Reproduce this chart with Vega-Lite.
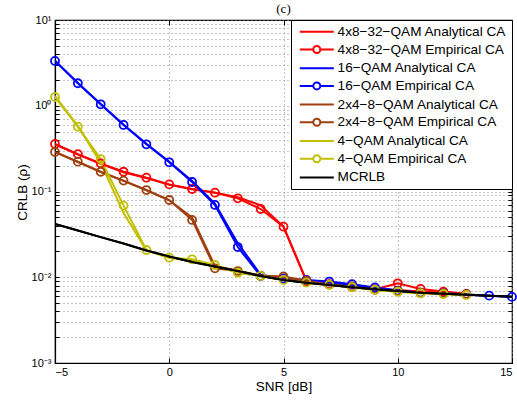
{
  "$schema": "https://vega.github.io/schema/vega-lite/v6.json",
  "width": 457,
  "height": 343,
  "autosize": {"type": "none"},
  "padding": {"left": 55, "top": 20, "right": 5, "bottom": 38},
  "background": "white",
  "title": {"text": "(c)", "font": "Liberation Serif", "fontSize": 13, "fontWeight": "normal", "color": "black", "offset": -2, "anchor": "middle"},
  "config": {
    "view": {"stroke": "black", "strokeWidth": 1.2},
    "font": "Liberation Sans",
    "axis": {"labelFont": "Liberation Sans", "labelFontSize": 11, "labelColor": "black", "titleFont": "Liberation Sans", "titleFontSize": 13.5, "titleFontWeight": "normal", "titleColor": "black", "domainColor": "black", "tickColor": "black", "gridColor": "#888888", "gridDash": [1, 3], "gridWidth": 1, "gridOpacity": 1}
  },
  "data": {"values": [
    {"s": "4x8−32−QAM Analytical CA", "x": -5, "y": 0.355},
    {"s": "4x8−32−QAM Analytical CA", "x": -4, "y": 0.27},
    {"s": "4x8−32−QAM Analytical CA", "x": -3, "y": 0.21},
    {"s": "4x8−32−QAM Analytical CA", "x": -2, "y": 0.168},
    {"s": "4x8−32−QAM Analytical CA", "x": -1, "y": 0.144},
    {"s": "4x8−32−QAM Analytical CA", "x": 0, "y": 0.12},
    {"s": "4x8−32−QAM Analytical CA", "x": 1, "y": 0.106},
    {"s": "4x8−32−QAM Analytical CA", "x": 2, "y": 0.097},
    {"s": "4x8−32−QAM Analytical CA", "x": 3, "y": 0.086},
    {"s": "4x8−32−QAM Analytical CA", "x": 4, "y": 0.069},
    {"s": "4x8−32−QAM Analytical CA", "x": 5, "y": 0.039},
    {"s": "4x8−32−QAM Analytical CA", "x": 6, "y": 0.0092},
    {"s": "4x8−32−QAM Analytical CA", "x": 7, "y": 0.0083},
    {"s": "4x8−32−QAM Analytical CA", "x": 8, "y": 0.0078},
    {"s": "4x8−32−QAM Analytical CA", "x": 9, "y": 0.0072},
    {"s": "4x8−32−QAM Analytical CA", "x": 10, "y": 0.0071},
    {"s": "4x8−32−QAM Analytical CA", "x": 11, "y": 0.0068},
    {"s": "4x8−32−QAM Analytical CA", "x": 12, "y": 0.0066},
    {"s": "4x8−32−QAM Analytical CA", "x": 13, "y": 0.0063},
    {"s": "4x8−32−QAM Empirical CA", "x": -5, "y": 0.358},
    {"s": "4x8−32−QAM Empirical CA", "x": -4, "y": 0.273},
    {"s": "4x8−32−QAM Empirical CA", "x": -3, "y": 0.213},
    {"s": "4x8−32−QAM Empirical CA", "x": -2, "y": 0.17},
    {"s": "4x8−32−QAM Empirical CA", "x": -1, "y": 0.145},
    {"s": "4x8−32−QAM Empirical CA", "x": 0, "y": 0.121},
    {"s": "4x8−32−QAM Empirical CA", "x": 1, "y": 0.107},
    {"s": "4x8−32−QAM Empirical CA", "x": 2, "y": 0.0968},
    {"s": "4x8−32−QAM Empirical CA", "x": 3, "y": 0.0833},
    {"s": "4x8−32−QAM Empirical CA", "x": 4, "y": 0.0625},
    {"s": "4x8−32−QAM Empirical CA", "x": 5, "y": 0.0389},
    {"s": "4x8−32−QAM Empirical CA", "x": 6, "y": 0.009},
    {"s": "4x8−32−QAM Empirical CA", "x": 7, "y": 0.0083},
    {"s": "4x8−32−QAM Empirical CA", "x": 8, "y": 0.0078},
    {"s": "4x8−32−QAM Empirical CA", "x": 9, "y": 0.0072},
    {"s": "4x8−32−QAM Empirical CA", "x": 10, "y": 0.0085},
    {"s": "4x8−32−QAM Empirical CA", "x": 11, "y": 0.0073},
    {"s": "4x8−32−QAM Empirical CA", "x": 12, "y": 0.0068},
    {"s": "4x8−32−QAM Empirical CA", "x": 13, "y": 0.0064},
    {"s": "16−QAM Analytical CA", "x": -5, "y": 3.35},
    {"s": "16−QAM Analytical CA", "x": -4, "y": 1.84},
    {"s": "16−QAM Analytical CA", "x": -3, "y": 1.05},
    {"s": "16−QAM Analytical CA", "x": -2, "y": 0.6},
    {"s": "16−QAM Analytical CA", "x": -1, "y": 0.36},
    {"s": "16−QAM Analytical CA", "x": 0, "y": 0.222},
    {"s": "16−QAM Analytical CA", "x": 1, "y": 0.133},
    {"s": "16−QAM Analytical CA", "x": 2, "y": 0.072},
    {"s": "16−QAM Analytical CA", "x": 3, "y": 0.025},
    {"s": "16−QAM Analytical CA", "x": 4, "y": 0.0107},
    {"s": "16−QAM Analytical CA", "x": 5, "y": 0.0096},
    {"s": "16−QAM Analytical CA", "x": 6, "y": 0.0092},
    {"s": "16−QAM Analytical CA", "x": 7, "y": 0.0087},
    {"s": "16−QAM Analytical CA", "x": 8, "y": 0.0082},
    {"s": "16−QAM Analytical CA", "x": 9, "y": 0.0075},
    {"s": "16−QAM Analytical CA", "x": 10, "y": 0.007},
    {"s": "16−QAM Analytical CA", "x": 11, "y": 0.0066},
    {"s": "16−QAM Analytical CA", "x": 12, "y": 0.0065},
    {"s": "16−QAM Analytical CA", "x": 13, "y": 0.0063},
    {"s": "16−QAM Analytical CA", "x": 14, "y": 0.0061},
    {"s": "16−QAM Analytical CA", "x": 15, "y": 0.0059},
    {"s": "16−QAM Empirical CA", "x": -5, "y": 3.33},
    {"s": "16−QAM Empirical CA", "x": -4, "y": 1.83},
    {"s": "16−QAM Empirical CA", "x": -3, "y": 1.04},
    {"s": "16−QAM Empirical CA", "x": -2, "y": 0.597},
    {"s": "16−QAM Empirical CA", "x": -1, "y": 0.355},
    {"s": "16−QAM Empirical CA", "x": 0, "y": 0.219},
    {"s": "16−QAM Empirical CA", "x": 1, "y": 0.129},
    {"s": "16−QAM Empirical CA", "x": 2, "y": 0.0697},
    {"s": "16−QAM Empirical CA", "x": 3, "y": 0.0225},
    {"s": "16−QAM Empirical CA", "x": 4, "y": 0.01035},
    {"s": "16−QAM Empirical CA", "x": 5, "y": 0.0096},
    {"s": "16−QAM Empirical CA", "x": 6, "y": 0.0093},
    {"s": "16−QAM Empirical CA", "x": 7, "y": 0.0089},
    {"s": "16−QAM Empirical CA", "x": 8, "y": 0.0083},
    {"s": "16−QAM Empirical CA", "x": 9, "y": 0.0076},
    {"s": "16−QAM Empirical CA", "x": 10, "y": 0.007},
    {"s": "16−QAM Empirical CA", "x": 11, "y": 0.0066},
    {"s": "16−QAM Empirical CA", "x": 12, "y": 0.0065},
    {"s": "16−QAM Empirical CA", "x": 13, "y": 0.0063},
    {"s": "16−QAM Empirical CA", "x": 14, "y": 0.0061},
    {"s": "16−QAM Empirical CA", "x": 15, "y": 0.0059},
    {"s": "2x4−8−QAM Analytical CA", "x": -5, "y": 0.287},
    {"s": "2x4−8−QAM Analytical CA", "x": -4, "y": 0.221},
    {"s": "2x4−8−QAM Analytical CA", "x": -3, "y": 0.168},
    {"s": "2x4−8−QAM Analytical CA", "x": -2, "y": 0.133},
    {"s": "2x4−8−QAM Analytical CA", "x": -1, "y": 0.103},
    {"s": "2x4−8−QAM Analytical CA", "x": 0, "y": 0.079},
    {"s": "2x4−8−QAM Analytical CA", "x": 1, "y": 0.05},
    {"s": "2x4−8−QAM Analytical CA", "x": 2, "y": 0.0135},
    {"s": "2x4−8−QAM Analytical CA", "x": 3, "y": 0.0119},
    {"s": "2x4−8−QAM Analytical CA", "x": 4, "y": 0.0105},
    {"s": "2x4−8−QAM Analytical CA", "x": 5, "y": 0.01},
    {"s": "2x4−8−QAM Analytical CA", "x": 6, "y": 0.009},
    {"s": "2x4−8−QAM Analytical CA", "x": 7, "y": 0.0082},
    {"s": "2x4−8−QAM Analytical CA", "x": 8, "y": 0.0077},
    {"s": "2x4−8−QAM Analytical CA", "x": 9, "y": 0.0072},
    {"s": "2x4−8−QAM Analytical CA", "x": 10, "y": 0.0069},
    {"s": "2x4−8−QAM Analytical CA", "x": 11, "y": 0.0066},
    {"s": "2x4−8−QAM Analytical CA", "x": 12, "y": 0.0065},
    {"s": "2x4−8−QAM Analytical CA", "x": 13, "y": 0.0063},
    {"s": "2x4−8−QAM Empirical CA", "x": -5, "y": 0.289},
    {"s": "2x4−8−QAM Empirical CA", "x": -4, "y": 0.223},
    {"s": "2x4−8−QAM Empirical CA", "x": -3, "y": 0.17},
    {"s": "2x4−8−QAM Empirical CA", "x": -2, "y": 0.134},
    {"s": "2x4−8−QAM Empirical CA", "x": -1, "y": 0.104},
    {"s": "2x4−8−QAM Empirical CA", "x": 0, "y": 0.0796},
    {"s": "2x4−8−QAM Empirical CA", "x": 1, "y": 0.0466},
    {"s": "2x4−8−QAM Empirical CA", "x": 2, "y": 0.0127},
    {"s": "2x4−8−QAM Empirical CA", "x": 3, "y": 0.0118},
    {"s": "2x4−8−QAM Empirical CA", "x": 4, "y": 0.0104},
    {"s": "2x4−8−QAM Empirical CA", "x": 5, "y": 0.0102},
    {"s": "2x4−8−QAM Empirical CA", "x": 6, "y": 0.0091},
    {"s": "2x4−8−QAM Empirical CA", "x": 7, "y": 0.0082},
    {"s": "2x4−8−QAM Empirical CA", "x": 8, "y": 0.0077},
    {"s": "2x4−8−QAM Empirical CA", "x": 9, "y": 0.0072},
    {"s": "2x4−8−QAM Empirical CA", "x": 10, "y": 0.0069},
    {"s": "2x4−8−QAM Empirical CA", "x": 11, "y": 0.0066},
    {"s": "2x4−8−QAM Empirical CA", "x": 12, "y": 0.0065},
    {"s": "2x4−8−QAM Empirical CA", "x": 13, "y": 0.0063},
    {"s": "4−QAM Analytical CA", "x": -5, "y": 1.3},
    {"s": "4−QAM Analytical CA", "x": -4, "y": 0.58},
    {"s": "4−QAM Analytical CA", "x": -3, "y": 0.215},
    {"s": "4−QAM Analytical CA", "x": -2, "y": 0.056},
    {"s": "4−QAM Analytical CA", "x": -1, "y": 0.0205},
    {"s": "4−QAM Analytical CA", "x": 0, "y": 0.0168},
    {"s": "4−QAM Analytical CA", "x": 1, "y": 0.0158},
    {"s": "4−QAM Analytical CA", "x": 2, "y": 0.0137},
    {"s": "4−QAM Analytical CA", "x": 3, "y": 0.0113},
    {"s": "4−QAM Analytical CA", "x": 4, "y": 0.01035},
    {"s": "4−QAM Analytical CA", "x": 5, "y": 0.0093},
    {"s": "4−QAM Analytical CA", "x": 6, "y": 0.00865},
    {"s": "4−QAM Analytical CA", "x": 7, "y": 0.00813},
    {"s": "4−QAM Analytical CA", "x": 8, "y": 0.00764},
    {"s": "4−QAM Analytical CA", "x": 9, "y": 0.0071},
    {"s": "4−QAM Analytical CA", "x": 10, "y": 0.00679},
    {"s": "4−QAM Analytical CA", "x": 11, "y": 0.0065},
    {"s": "4−QAM Analytical CA", "x": 12, "y": 0.00638},
    {"s": "4−QAM Analytical CA", "x": 13, "y": 0.00621},
    {"s": "4−QAM Empirical CA", "x": -5, "y": 1.265},
    {"s": "4−QAM Empirical CA", "x": -4, "y": 0.57},
    {"s": "4−QAM Empirical CA", "x": -3, "y": 0.239},
    {"s": "4−QAM Empirical CA", "x": -2, "y": 0.0684},
    {"s": "4−QAM Empirical CA", "x": -1, "y": 0.0208},
    {"s": "4−QAM Empirical CA", "x": 0, "y": 0.0169},
    {"s": "4−QAM Empirical CA", "x": 1, "y": 0.0162},
    {"s": "4−QAM Empirical CA", "x": 2, "y": 0.0139},
    {"s": "4−QAM Empirical CA", "x": 3, "y": 0.0113},
    {"s": "4−QAM Empirical CA", "x": 4, "y": 0.01035},
    {"s": "4−QAM Empirical CA", "x": 5, "y": 0.0093},
    {"s": "4−QAM Empirical CA", "x": 6, "y": 0.00865},
    {"s": "4−QAM Empirical CA", "x": 7, "y": 0.00813},
    {"s": "4−QAM Empirical CA", "x": 8, "y": 0.00764},
    {"s": "4−QAM Empirical CA", "x": 9, "y": 0.0071},
    {"s": "4−QAM Empirical CA", "x": 10, "y": 0.00679},
    {"s": "4−QAM Empirical CA", "x": 11, "y": 0.0065},
    {"s": "4−QAM Empirical CA", "x": 12, "y": 0.00638},
    {"s": "4−QAM Empirical CA", "x": 13, "y": 0.00621},
    {"s": "MCRLB", "x": -5, "y": 0.0418},
    {"s": "MCRLB", "x": -4, "y": 0.0351},
    {"s": "MCRLB", "x": -3, "y": 0.0294},
    {"s": "MCRLB", "x": -2, "y": 0.0248},
    {"s": "MCRLB", "x": -1, "y": 0.0205},
    {"s": "MCRLB", "x": 0, "y": 0.01746},
    {"s": "MCRLB", "x": 1, "y": 0.01507},
    {"s": "MCRLB", "x": 2, "y": 0.01334},
    {"s": "MCRLB", "x": 3, "y": 0.01182},
    {"s": "MCRLB", "x": 4, "y": 0.01034},
    {"s": "MCRLB", "x": 5, "y": 0.00929},
    {"s": "MCRLB", "x": 6, "y": 0.00865},
    {"s": "MCRLB", "x": 7, "y": 0.00813},
    {"s": "MCRLB", "x": 8, "y": 0.00764},
    {"s": "MCRLB", "x": 9, "y": 0.00724},
    {"s": "MCRLB", "x": 10, "y": 0.00692},
    {"s": "MCRLB", "x": 11, "y": 0.00661},
    {"s": "MCRLB", "x": 12, "y": 0.00643},
    {"s": "MCRLB", "x": 13, "y": 0.00626},
    {"s": "MCRLB", "x": 14, "y": 0.0061},
    {"s": "MCRLB", "x": 15, "y": 0.00593}
  ]},
  "resolve": {"axis": {"x": "independent", "y": "independent"}},
  "layer": [
    {"mark": {"type": "line", "strokeWidth": 2, "clip": true},
     "encoding": {
      "x": {"field": "x", "type": "quantitative", "scale": {"domain": [-5, 15], "nice": false},
        "axis": {"title": "SNR [dB]", "values": [-5, 0, 5, 10, 15], "grid": true, "tickSize": -5, "labelPadding": 8, "titlePadding": 2, "titleY": 16, "domainWidth": 1.2}},
      "y": {"field": "y", "type": "quantitative", "scale": {"type": "log", "domain": [0.001, 10], "nice": false},
        "axis": {"title": "CRLB (ρ)", "grid": true, "tickSize": -4, "labelPadding": 8, "titlePadding": 2, "titleX": -26, "titleY": 172, "domainWidth": 1.2,
          "values": [0.001, 0.002, 0.003, 0.004, 0.005, 0.006, 0.007, 0.008, 0.009, 0.01, 0.02, 0.03, 0.04, 0.05, 0.06, 0.07, 0.08, 0.09, 0.1, 0.2, 0.3, 0.4, 0.5, 0.6, 0.7, 0.8, 0.9, 1, 2, 3, 4, 5, 6, 7, 8, 9, 10],
          "labelExpr": "datum.value == 10 ? '10¹' : datum.value == 1 ? '10⁰' : datum.value == 0.1 ? '10⁻¹' : datum.value == 0.01 ? '10⁻²' : datum.value == 0.001 ? '10⁻³' : ''"}},
      "color": {"field": "s", "type": "nominal",
        "scale": {"domain": ["4x8−32−QAM Analytical CA", "4x8−32−QAM Empirical CA", "16−QAM Analytical CA", "16−QAM Empirical CA", "2x4−8−QAM Analytical CA", "2x4−8−QAM Empirical CA", "4−QAM Analytical CA", "4−QAM Empirical CA", "MCRLB"],
          "range": ["#ff0000", "#ff0000", "#0000ff", "#0000ff", "#a0400f", "#a0400f", "#c0c000", "#c0c000", "#000000"]},
        "legend": {"title": null, "orient": "top-right", "offset": 0, "strokeColor": "black", "fillColor": "white", "padding": 5, "labelFont": "Liberation Sans", "labelFontSize": 13.6, "labelColor": "black", "symbolSize": 100, "symbolStrokeWidth": 2, "symbolOffset": 14, "rowPadding": 2.7, "labelOffset": 14, "labelLimit": 300,
          "encode": {"symbols": {"update": {"shape": {"signal": "indexof(datum.value, 'Empirical') >= 0 ? 'M-3.4,0L-0.7,0M0.7,0L3.4,0M-0.7,0A0.7,0.7 0 1,1 0.7,0A0.7,0.7 0 1,1 -0.7,0' : 'M-3.4,0L3.4,0'"}, "fill": {"value": "transparent"}, "strokeWidth": {"value": 2}}}}}}
     }},
    {"transform": [{"filter": {"field": "s", "oneOf": ["4x8−32−QAM Empirical CA", "16−QAM Empirical CA", "2x4−8−QAM Empirical CA", "4−QAM Empirical CA"]}}],
     "mark": {"type": "point", "shape": "circle", "filled": false, "size": 64, "strokeWidth": 1.8, "opacity": 1},
     "encoding": {
      "x": {"field": "x", "type": "quantitative", "axis": null},
      "y": {"field": "y", "type": "quantitative", "axis": null},
      "color": {"field": "s", "type": "nominal"}
     }},
    {"transform": [{"filter": {"field": "s", "equal": "MCRLB"}}],
     "mark": {"type": "line", "strokeWidth": 2, "color": "#000000", "clip": true},
     "encoding": {
      "x": {"field": "x", "type": "quantitative",
        "axis": {"orient": "top", "title": null, "values": [-5, 0, 5, 10, 15], "labels": false, "grid": false, "domain": false, "tickSize": -5}},
      "y": {"field": "y", "type": "quantitative",
        "axis": {"orient": "right", "title": null, "labels": false, "grid": false, "domain": false, "tickSize": -4,
          "values": [0.001, 0.002, 0.003, 0.004, 0.005, 0.006, 0.007, 0.008, 0.009, 0.01, 0.02, 0.03, 0.04, 0.05, 0.06, 0.07, 0.08, 0.09, 0.1, 0.2, 0.3, 0.4, 0.5, 0.6, 0.7, 0.8, 0.9, 1, 2, 3, 4, 5, 6, 7, 8, 9, 10]}}
     }}
  ]
}
